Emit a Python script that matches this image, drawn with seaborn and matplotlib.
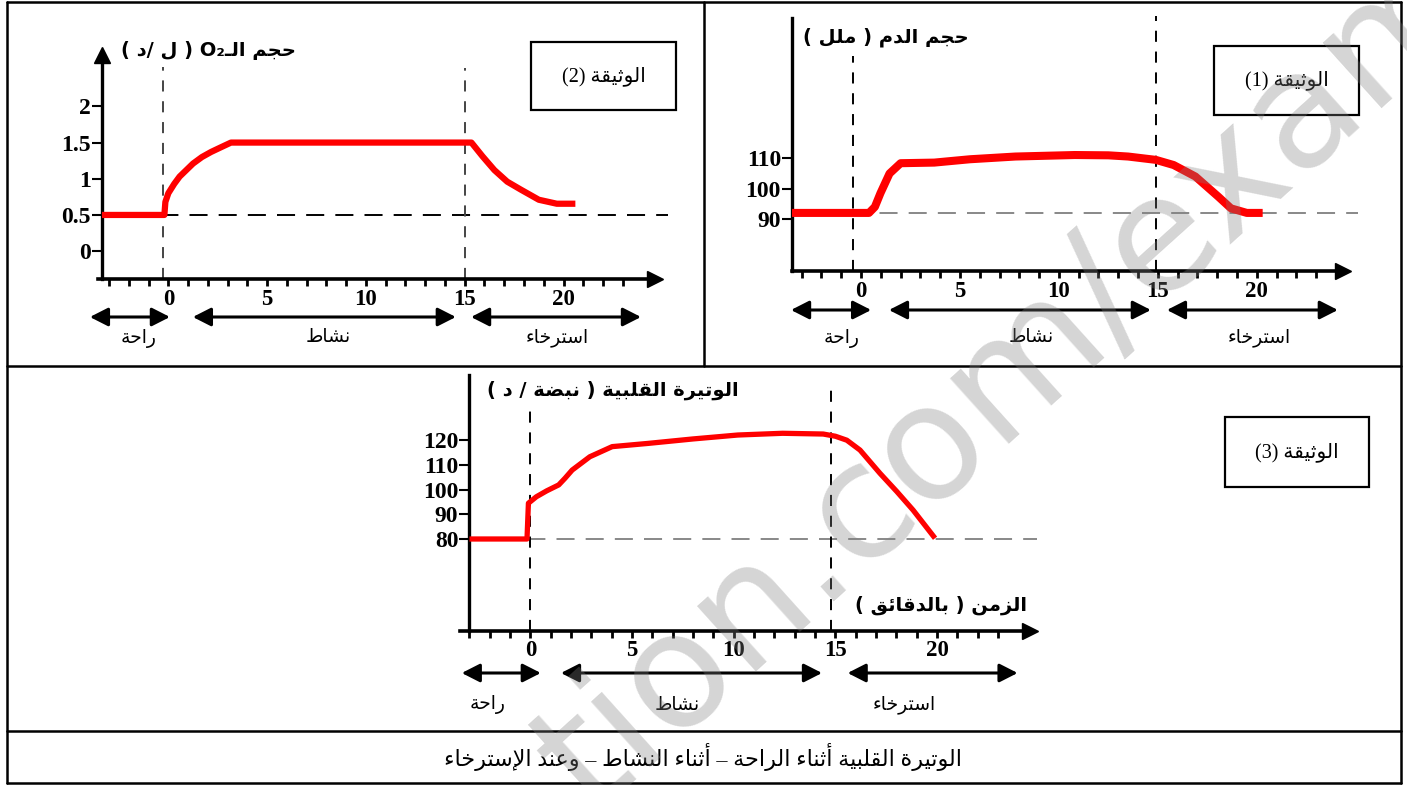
import matplotlib
matplotlib.use("Agg")
import matplotlib.pyplot as plt
import matplotlib.transforms as mtransforms
from matplotlib.lines import Line2D
from matplotlib.patches import Rectangle
import seaborn as sns

# style
sns.set_theme(style="white", rc={"axes.edgecolor": "black", "xtick.color": "black",
                                 "ytick.color": "black", "text.color": "black"})
plt.rcParams["font.family"] = ["Liberation Serif", "DejaVu Sans"]
plt.rcParams["lines.scale_dashes"] = False

# ---- data ----
minutes = list(range(-3, 24))
labelled_minutes = [0, 5, 10, 15, 20]
phases = ["راحة", "نشاط", "استرخاء"]

# الوثيقة 2 : حجم O2 (ل/د)
o2_t = [-3.36, -0.2, -0.15, 0.0, 0.3, 0.57, 1.25, 1.7, 2.16, 2.7, 3.17,
        15.34, 15.9, 16.5, 17.15, 17.84, 18.75, 19.66, 20.6]
o2_v = [0.5, 0.5, 0.68, 0.8, 0.93, 1.03, 1.21, 1.3, 1.37, 1.44, 1.5,
        1.5, 1.31, 1.12, 0.96, 0.85, 0.71, 0.655, 0.655]
o2_yticks = [0, 0.5, 1, 1.5, 2]
o2_ytick_labels = ["0", "0.5", "1", "1.5", "2"]

# الوثيقة 1 : حجم الدم (ملل)
blood_t = [-3.49, 0.4, 0.7, 0.98, 1.44, 2.0, 3.7, 5.5, 7.8, 10.8, 12.5,
           13.5, 14.9, 15.8, 16.9, 18.05, 18.7, 19.5, 20.3]
blood_v = [92, 92, 94, 98.5, 105, 108.4, 108.6, 109.7, 110.6, 111.1, 111,
           110.6, 109.5, 107.8, 104, 97.4, 93.5, 92, 92]
blood_yticks = [90, 100, 110]

# الوثيقة 3 : الوتيرة القلبية (نبضة/د)
hr_t = [-3.0, -0.17, -0.1, 0.29, 0.8, 1.39, 1.7, 2.05, 2.92, 4.02, 5.78, 7.98,
        10.2, 12.4, 14.4, 15.0, 15.56, 16.21, 17.19, 18.02, 18.82, 19.9]
hr_v = [80, 80, 94.5, 97.1, 99.5, 101.9, 104.6, 107.9, 113.3, 117.4, 118.7, 120.5,
        122.1, 122.8, 122.5, 121.6, 120, 116, 106.6, 99.2, 91.7, 80.3]
hr_yticks = [80, 90, 100, 110, 120]

caption = "الوتيرة القلبية أثناء الراحة – أثناء النشاط – وعند الإسترخاء"

# ---- minimal arabic shaping + visual ordering ----
_QUAD = "ئبتثجحخسشصضطظعغفقكلمنهي"
_QUAD_START = [0xFE89, 0xFE8F, 0xFE95, 0xFE99, 0xFE9D, 0xFEA1, 0xFEA5, 0xFEB1,
               0xFEB5, 0xFEB9, 0xFEBD, 0xFEC1, 0xFEC5, 0xFEC9, 0xFECD, 0xFED1,
               0xFED5, 0xFED9, 0xFEDD, 0xFEE1, 0xFEE5, 0xFEE9, 0xFEF1]
_PAIR = "آأؤإاةدذرزوى"
_PAIR_START = [0xFE81, 0xFE83, 0xFE85, 0xFE87, 0xFE8D, 0xFE93, 0xFEA9, 0xFEAB,
               0xFEAD, 0xFEAF, 0xFEED, 0xFEEF]
FORMS = {c: [s, s + 1, s + 2, s + 3] for c, s in zip(_QUAD, _QUAD_START)}
FORMS.update({c: [s, s + 1] for c, s in zip(_PAIR, _PAIR_START)})
FORMS["ء"] = [0xFE80]
LAM_ALEF = {"آ": 0xFEF5, "أ": 0xFEF7, "إ": 0xFEF9, "ا": 0xFEFB}
TATWEEL = "ـ"
MIRROR = {"(": ")", ")": "("}


def joins_next(c):
    return c == TATWEEL or (isinstance(c, str) and c in FORMS and len(FORMS[c]) == 4)


def is_joining(c):
    return isinstance(c, tuple) or c == TATWEEL or (c in FORMS and c != "ء")


def shape(s):
    chars, i = [], 0
    while i < len(s):
        if s[i] == "ل" and i + 1 < len(s) and s[i + 1] in LAM_ALEF:
            chars.append(("LA", s[i + 1]))
            i += 2
        else:
            chars.append(s[i])
            i += 1
    out = []
    for k, c in enumerate(chars):
        prev = chars[k - 1] if k > 0 else None
        nxt = chars[k + 1] if k + 1 < len(chars) else None
        p = prev is not None and joins_next(prev)
        if isinstance(c, tuple):
            out.append(chr(LAM_ALEF[c[1]] + (1 if p else 0)))
            continue
        if c not in FORMS:
            out.append(c)
            continue
        f = FORMS[c]
        if len(f) == 1:
            out.append(chr(f[0]))
            continue
        n = len(f) == 4 and nxt is not None and is_joining(nxt)
        if p and n:
            out.append(chr(f[3]))
        elif p:
            out.append(chr(f[1]))
        elif n:
            out.append(chr(f[2]))
        else:
            out.append(chr(f[0]))
    return "".join(out)


def is_ltr(c):
    return (c.isascii() and c.isalnum()) or c == "₂"


def ar(s):
    s = shape(s)
    runs = []
    for c in s:
        kind = is_ltr(c)
        if runs and runs[-1][0] == kind:
            runs[-1][1].append(c)
        else:
            runs.append((kind, [c]))
    parts = []
    for kind, cs in reversed(runs):
        if kind:
            parts.append("".join(cs))
        else:
            parts.append("".join(MIRROR.get(c, c) for c in reversed(cs)))
    return "".join(parts)


# ---- figure ----
W, H = 1407, 785
fig = plt.figure(figsize=(W / 100, H / 100), dpi=100)
PX = mtransforms.Affine2D().scale(1 / W, -1 / H).translate(0, 1) + fig.transFigure

AR_FONT = ["Liberation Serif", "DejaVu Sans"]


def add_axes_px(left, top, right, bottom):
    return fig.add_axes([left / W, 1 - bottom / H, (right - left) / W, (bottom - top) / H])


def draw_panel(t, v, cfg):
    ax = add_axes_px(*cfg["rect"])
    ax.patch.set_alpha(0)
    sns.lineplot(x=t, y=v, ax=ax, color="red", linewidth=cfg["lw"], estimator=None,
                 sort=False, solid_capstyle="butt", zorder=5)
    ax.set_xlim(*cfg["xlim"])
    ax.set_ylim(*cfg["ylim"])

    for s in ["top", "right"]:
        ax.spines[s].set_visible(False)
    ax.spines["left"].set_position(("data", cfg["yaxis_at"]))
    ax.spines["left"].set_linewidth(2.4)
    ax.spines["bottom"].set_linewidth(2.6)

    ax.set_xticks(minutes, labels=[str(m) if m in labelled_minutes else "" for m in minutes])
    ax.tick_params(axis="x", direction="out", length=5, width=2, pad=2,
                   labelsize=16.5, bottom=True)
    for lab in ax.get_xticklabels():
        lab.set_fontweight("bold")
    ax.set_yticks(cfg["yticks"], labels=cfg.get("ylabels", [str(y) for y in cfg["yticks"]]))
    ax.tick_params(axis="y", direction="out", length=7, width=1.5, pad=1,
                   labelsize=17, left=True)
    for lab in ax.get_yticklabels():
        lab.set_fontweight("bold")
    ax.set_xlabel("")
    ax.set_ylabel("")

    # axis arrows
    ax.plot(cfg["xlim"][1], cfg["ylim"][0], marker=">", ms=11, color="black",
            clip_on=False, zorder=6)
    if cfg.get("yarrow"):
        ax.plot(cfg["yaxis_at"], cfg["ylim"][1], marker="^", ms=11, color="black",
                clip_on=False, zorder=6)

    # reference dashed lines
    base = v[0]
    ax.plot([cfg["yaxis_at"], cfg["hline_end"]], [base, base], color=cfg["hcolor"],
            lw=1.4, dashes=(13, 8), clip_on=False, zorder=2)
    for xv, ytop in cfg["vlines"]:
        ax.plot([xv, xv], [cfg["ylim"][0], ytop], color=cfg["vcolor"], lw=1.4,
                dashes=(8, 7), clip_on=False, zorder=2)

    # phase arrows + names
    tr = mtransforms.blended_transform_factory(ax.transData, PX)
    for (x0, x1), xl, name in zip(cfg["spans"], cfg["label_x"], phases):
        ax.annotate("", xy=(x1, cfg["arrow_y"]), xytext=(x0, cfg["arrow_y"]),
                    xycoords=tr, textcoords=tr, annotation_clip=False,
                    arrowprops=dict(arrowstyle="<|-|>,head_length=0.55,head_width=0.28",
                                    color="black", lw=2.2, mutation_scale=20,
                                    shrinkA=0, shrinkB=0))
        ax.text(xl, cfg["label_y"], ar(name), transform=tr, ha="center", va="center",
                fontsize=13.5, family=AR_FONT)
    return ax


panels = [
    (o2_t, o2_v, dict(rect=(98, 55, 655, 279), xlim=(-3.56, 24.63), ylim=(-0.385, 2.71),
                      yaxis_at=-3.36, yticks=o2_yticks, ylabels=o2_ytick_labels, lw=4.5,
                      yarrow=True, hline_end=25.3, hcolor="black", vcolor="#444444",
                      vlines=[(-0.27, 2.55), (15.0, 2.53)],
                      spans=[(-3.97, 0.08), (1.24, 14.55), (15.32, 23.92)],
                      label_x=[-1.49, 8.08, 19.67], arrow_y=317, label_y=338)),
    (blood_t, blood_v, dict(rect=(792, 18, 1343, 271), xlim=(-3.49, 24.36), ylim=(72.84, 156.3),
                            yaxis_at=-3.49, yticks=blood_yticks, lw=5.8,
                            hline_end=25.1, hcolor="#888888", vcolor="black",
                            vlines=[(-0.4, 143.6), (14.9, 156.8)],
                            spans=[(-3.54, 0.51), (1.41, 14.65), (15.46, 24.1)],
                            label_x=[-0.96, 8.59, 20.1], arrow_y=310, label_y=338)),
    (hr_t, hr_v, dict(rect=(459.5, 375, 1030, 630.7), xlim=(-3.49, 24.57), ylim=(42.87, 146.4),
                      yaxis_at=-3.0, yticks=hr_yticks, lw=3.8,
                      hline_end=24.9, hcolor="#888888", vcolor="black",
                      vlines=[(0.0, 132.2), (14.8, 143.2)],
                      spans=[(-3.38, 0.51), (1.5, 14.34), (15.6, 23.96)],
                      label_x=[-2.13, 7.21, 18.4], arrow_y=673, label_y=705)),
]
for t, v, cfg in panels:
    draw_panel(t, v, cfg)

# axis titles
bold_kw = dict(transform=PX, ha="center", va="center", fontsize=14,
               family=["DejaVu Sans"], fontweight="bold")
fig.text(208, 50, ar("حجم الـO₂ ( ل /د )"), **bold_kw)
fig.text(886, 37, ar("حجم الدم ( ملل )"), **bold_kw)
fig.text(613, 390, ar("الوتيرة القلبية ( نبضة / د )"), **bold_kw)
fig.text(941, 605, ar("الزمن ( بالدقائق )"), **bold_kw)

# document boxes
for (x0, y0, x1, y1), num in [((531, 42, 676, 110), 2), ((1214, 46, 1359, 115), 1),
                              ((1225, 417, 1369, 487), 3)]:
    fig.add_artist(Rectangle((x0, y1), x1 - x0, y0 - y1, transform=PX, fill=False,
                             lw=1.6, edgecolor="black"))
    fig.text((x0 + x1) / 2, (y0 + y1) / 2, ar(f"الوثيقة ({num})"), transform=PX,
             ha="center", va="center", fontsize=14.5, family=AR_FONT)

# table frame
frame = [((7, 2), (1401, 2)), ((7, 783), (1401, 783)), ((7, 2), (7, 783)),
         ((1401, 2), (1401, 783)), ((7, 365.5), (1401, 365.5)), ((704, 2), (704, 365.5)),
         ((7, 731), (1401, 731))]
for (xa, ya), (xb, yb) in frame:
    fig.add_artist(Line2D([xa, xb], [ya, yb], transform=PX, color="black", lw=1.8))

fig.text(703, 757, ar(caption), transform=PX, ha="center", va="center",
         fontsize=16, family=AR_FONT)

# watermark (cut by the picture edges, as in the original)
fig.text(1010, 380, "tion.com/exam", transform=PX, rotation=42, rotation_mode="anchor",
         ha="center", va="center", fontsize=116, color="0.5", alpha=0.33,
         family=["DejaVu Sans"], zorder=20)

fig.savefig("out.png", dpi=100)
